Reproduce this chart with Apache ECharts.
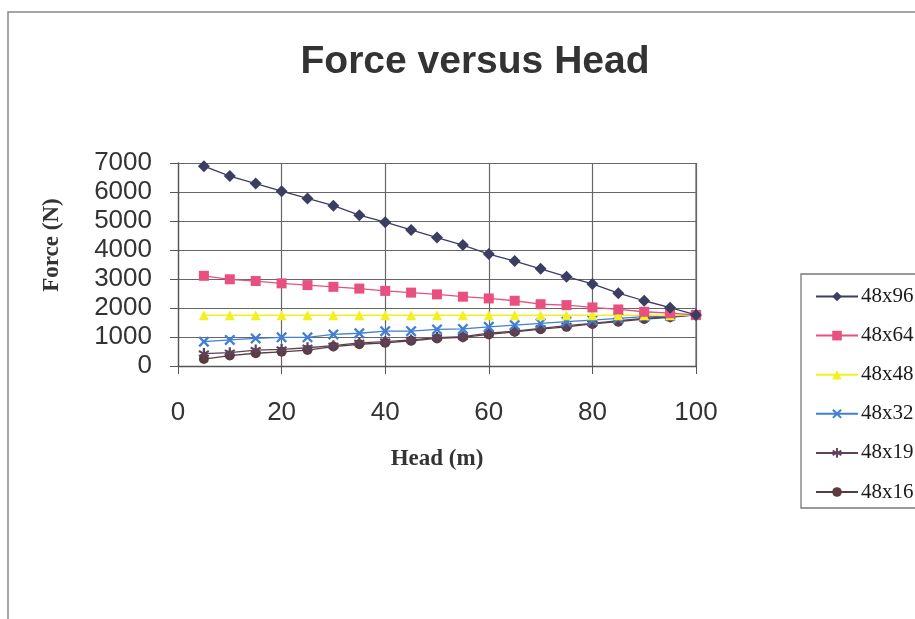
<!DOCTYPE html>
<html><head><meta charset="utf-8">
<script src="https://cdn.jsdelivr.net/npm/echarts@6/dist/echarts.min.js"></script>
<style>html,body{margin:0;padding:0;background:#fff}#c{width:915px;height:619px}</style>
</head><body><div id="c"></div>
<script>
const head = [5,10,15,20,25,30,35,40,45,50,55,60,65,70,75,80,85,90,95,100];
const s48x96 = [6890,6550,6290,6030,5780,5530,5200,4960,4690,4430,4170,3860,3620,3350,3080,2830,2510,2250,2010,1760];
const s48x64 = [3110,2990,2930,2850,2790,2730,2670,2590,2530,2470,2390,2330,2250,2130,2100,2020,1950,1870,1820,1760];
const s48x48 = [1750,1750,1750,1750,1750,1750,1750,1750,1750,1750,1750,1750,1750,1750,1750,1750,1750,1750,1750,1760];
const s48x32 = [840,900,950,990,990,1090,1130,1200,1200,1260,1280,1350,1410,1470,1530,1580,1640,1700,1720,1760];
const s48x19 = [430,460,550,570,630,700,800,840,900,980,1010,1130,1200,1300,1390,1470,1560,1640,1700,1760];
const s48x16 = [240,360,440,490,550,670,750,800,870,950,990,1090,1180,1270,1350,1450,1530,1620,1680,1760];
const seriesNames = ['48x96','48x64','48x48','48x32','48x19','48x16'];
const seriesData = [s48x96,s48x64,s48x48,s48x32,s48x19,s48x16];
const yTicks = [0,1000,2000,3000,4000,5000,6000,7000];
const xTicks = [0,20,40,60,80,100];
const titleText = 'Force versus Head';
const xName = 'Head (m)';
const yName = 'Force (N)';

const colors = ['#3b3d63','#e8507f','#f2f020','#3f7fd4','#5e4258','#5a3b3f'];
const xPath = 'path://M0,1.5L1.5,0L5,3.5L8.5,0L10,1.5L6.5,5L10,8.5L8.5,10L5,6.5L1.5,10L0,8.5L3.5,5Z';
const starPath = 'path://M4,0L6,0L6,3.5L9,1.8L10,3.5L7,5L10,6.5L9,8.2L6,6.5L6,10L4,10L4,6.5L1,8.2L0,6.5L3,5L0,3.5L1,1.8L4,3.5Z';
const symbols = ['diamond','rect','triangle',xPath,starPath,'circle'];
const symSizes = [12,10,10,11,11,10];

const chart = echarts.init(document.getElementById('c'), null, {renderer:'canvas'});
const series = seriesNames.map((n,i)=>({
  name:n, type:'line',
  data: head.map((h,j)=>[h, seriesData[i][j]]),
  symbol: symbols[i], symbolSize: symSizes[i], showAllSymbol:true,
  lineStyle:{color:colors[i], width:1.3},
  itemStyle:{color:colors[i], borderWidth:0},
  z: 10-i
}));

chart.setOption({
  animation:false,
  backgroundColor:'#fff',
  title:{text:titleText, left:470, top:38, textAlign:'center',
    textStyle:{fontFamily:'Liberation Sans, Arial', fontWeight:'bold', fontSize:39, color:'#333'}},
  grid:{left:178, right:219, top:163, bottom:253},
  legend:{
    orient:'vertical', left:810, top:281, itemGap:18.1, itemWidth:42, itemHeight:12,
    data: seriesNames,
    textStyle:{fontFamily:'Liberation Serif, Times New Roman', fontSize:21, color:'#1a1a1a', padding:[0,0,0,-2]}
  },
  xAxis:{type:'value', min:0, max:100, interval:20,
    axisLine:{show:true, onZero:false, lineStyle:{color:'#555', width:1.3}},
    axisTick:{show:true, inside:false, length:8, lineStyle:{color:'#555'}},
    axisLabel:{fontFamily:'Liberation Sans, Arial', fontSize:26, color:'#333', margin:34},
    splitLine:{show:true, lineStyle:{color:'#666', width:1.2}},
    name:xName, nameLocation:'middle', nameGap:82,
    nameTextStyle:{fontFamily:'Liberation Serif, Times New Roman', fontWeight:'bold', fontSize:23, color:'#333'}
  },
  yAxis:{type:'value', min:0, max:7000, interval:1000,
    axisLine:{show:true, lineStyle:{color:'#555', width:1.3}},
    axisTick:{show:true, inside:false, length:8, lineStyle:{color:'#555'}},
    axisLabel:{fontFamily:'Liberation Sans, Arial', fontSize:26, color:'#333', margin:26, lineHeight:26,
      formatter: v => String(v)},
    splitLine:{show:true, lineStyle:{color:'#666', width:1.2}}
  },
  graphic:[
    {type:'polyline', shape:{points:[[8,619],[8,12],[915,12]]}, style:{stroke:'#888', lineWidth:1.5, fill:null}, silent:true},
    {type:'rect', shape:{x:801, y:274, width:130, height:234}, style:{stroke:'#777', lineWidth:1.3, fill:null}, silent:true},
    {type:'line', shape:{x1:696, y1:163, x2:696, y2:366}, style:{stroke:'#666', lineWidth:1.2}, silent:true, z:-1},
    {type:'text', x:52, y:245, rotation:Math.PI/2, silent:true,
      style:{text:yName, fontFamily:'Liberation Serif, Times New Roman', fontWeight:'bold', fontSize:23, fill:'#333',
        align:'center', verticalAlign:'middle'}}
  ],
  series: series
});
</script></body></html>
